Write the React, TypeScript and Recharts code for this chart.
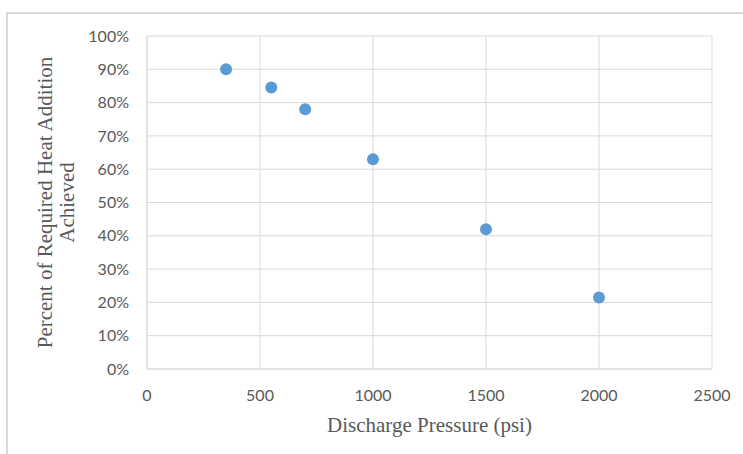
import React from 'react';
import { ScatterChart, Scatter, XAxis, YAxis, CartesianGrid } from 'recharts';

const pressure = [350, 550, 700, 1000, 1500, 2000];
const percentAchieved = [90, 84.5, 78, 63, 42, 21.5];
const xTicks = [0, 500, 1000, 1500, 2000, 2500];
const yTicks = [0, 10, 20, 30, 40, 50, 60, 70, 80, 90, 100];
const xTitle = 'Discharge Pressure (psi)';
const yTitleLines = ['Percent of Required Heat Addition', 'Achieved'];

const data = pressure.map((p, i) => ({ x: p, y: percentAchieved[i] }));

const GRID = '#d9d9d9';
const TEXT = '#595959';
const tickStyle = { fontFamily: 'Lato, sans-serif', fontSize: 16, fill: TEXT };
const titleFont = 'Liberation Serif, serif';

const YTitle = (props: any) => {
  const vb = props.viewBox || {};
  const cy = vb.y + vb.height / 2;
  return (
    <g>
      <text x={52} y={cy} transform={`rotate(-90, 52, ${cy})`} textAnchor="middle"
        fontFamily={titleFont} fontSize={21} fill={TEXT}>{yTitleLines[0]}</text>
      <text x={74} y={cy} transform={`rotate(-90, 74, ${cy})`} textAnchor="middle"
        fontFamily={titleFont} fontSize={21} fill={TEXT}>{yTitleLines[1]}</text>
    </g>
  );
};

const XTitle = (props: any) => {
  const vb = props.viewBox || {};
  const cx = vb.x + vb.width / 2;
  return (
    <text x={cx} y={vb.y + 63} textAnchor="middle" fontFamily={titleFont} fontSize={21} fill={TEXT}>
      {xTitle}
    </text>
  );
};

const Dot = (props: any) => <circle cx={props.cx} cy={props.cy} r={6} fill="#5B9BD5" />;

export default function App() {
  return (
    <div style={{ position: 'fixed', left: 0, top: 0, width: 743, height: 454, overflow: 'hidden', background: '#fff' }}>
      <div style={{ position: 'absolute', left: 6, top: 12, width: 800, height: 500, border: `2px solid ${GRID}`, boxSizing: 'border-box' }} />
      <div style={{ position: 'absolute', left: 0, top: 0 }}>
        <ScatterChart width={743} height={454} margin={{ top: 36, right: 31, bottom: 0, left: 0 }}>
          <CartesianGrid stroke={GRID} strokeWidth={1} />
          <XAxis type="number" dataKey="x" domain={[0, 2500]} ticks={xTicks} interval={0}
            height={85} axisLine={{ stroke: GRID }} tickLine={false} tickSize={0} tickMargin={21}
            tick={tickStyle} label={{ content: XTitle }} />
          <YAxis type="number" dataKey="y" domain={[0, 100]} ticks={yTicks} interval={0}
            width={147} axisLine={{ stroke: GRID }} tickLine={false} tickSize={0} tickMargin={18}
            tick={tickStyle} tickFormatter={(v: number) => `${v}%`} label={{ content: YTitle }} />
          <Scatter data={data} shape={Dot} isAnimationActive={false} />
        </ScatterChart>
      </div>
    </div>
  );
}
